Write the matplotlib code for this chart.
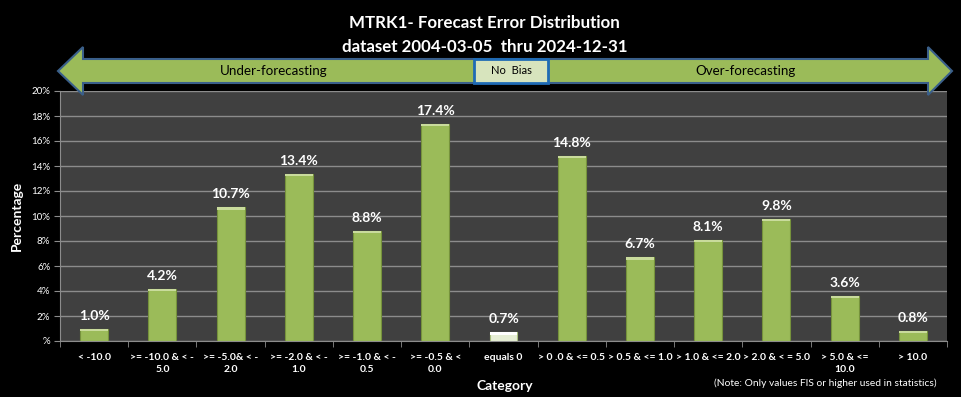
import matplotlib
matplotlib.use('Agg')
import matplotlib.pyplot as plt
from matplotlib.patches import Polygon, Rectangle
from matplotlib.ticker import FixedLocator

categories = ['< -10.0', '>= -10.0 & < -\n5.0', '>= -5.0& < -\n2.0', '>= -2.0 & < -\n1.0',
              '>= -1.0 & < -\n0.5', '>= -0.5 & <\n0.0', 'equals 0', '> 0 .0 & <= 0.5',
              '> 0.5 & <= 1.0', '> 1.0 & <= 2.0', '> 2.0 & < = 5.0', '> 5.0 & <=\n10.0', '> 10.0']
percent = [1.0, 4.2, 10.7, 13.4, 8.8, 17.4, 0.7, 14.8, 6.7, 8.1, 9.8, 3.6, 0.8]
ytick_vals = [0, 2, 4, 6, 8, 10, 12, 14, 16, 18, 20]
ytick_labels = ['%', '2%', '4%', '6%', '8%', '10%', '12%', '14%', '16%', '18%', '20%']

plt.rcParams['font.family'] = ['Lato', 'DejaVu Sans']

W, H = 961, 397
fig = plt.figure(figsize=(W / 100, H / 100), dpi=100, facecolor='black')

def fx(px):
    return px / W
def fy(py):
    return 1 - py / H

ax = fig.add_axes([fx(60), fy(341), fx(947) - fx(60), fy(91) - fy(341)])
ax.set_facecolor('#404040')

x = list(range(len(categories)))
colors = ['#9BBB59'] * len(categories)
edges = ['#76923C'] * len(categories)
colors[6] = '#E6EED5'
edges[6] = '#A9BE7E'
bars = ax.bar(x, percent, width=0.41, color=colors, edgecolor=edges, linewidth=0.8, zorder=3)
# light cap on top of each bar
for b, c in zip(bars, colors):
    cap = '#C9DB9C' if c == '#9BBB59' else '#FFFFFF'
    ax.add_patch(Rectangle((b.get_x(), b.get_height() - 0.18), b.get_width(), 0.18,
                           color=cap, zorder=4, lw=0))

for xi, v in zip(x, percent):
    ax.text(xi, v + 0.55, f'{v:.1f}%', ha='center', va='bottom', color='white',
            fontsize=10, fontweight='bold', zorder=5)

ax.set_xlim(-0.5, len(categories) - 0.5)
ax.set_ylim(0, 20)
ax.set_yticks(ytick_vals)
ax.set_yticklabels(ytick_labels, color='white', fontsize=7)
ax.yaxis.grid(True, color='#8C8C8C', linewidth=1, zorder=0)
ax.set_xticks(x)
ax.set_xticklabels(categories, color='white', fontsize=7.5, fontweight='bold', linespacing=1.3)
ax.xaxis.set_minor_locator(FixedLocator([i - 0.5 for i in range(len(categories) + 1)]))
ax.tick_params(axis='x', which='major', length=0, pad=9)
ax.tick_params(axis='x', which='minor', length=4, color='#8C8C8C')
ax.tick_params(axis='y', length=4, color='#8C8C8C', pad=3)
for s in ['top', 'right']:
    ax.spines[s].set_visible(False)
for s in ['left', 'bottom']:
    ax.spines[s].set_color('#8C8C8C')

ax.set_ylabel('Percentage', color='white', fontsize=10, fontweight='bold', labelpad=6)
fig.text(fx(505), fy(386), 'Category', color='white', fontsize=10, fontweight='bold',
         ha='center', va='center')
fig.text(fx(825), fy(383), '(Note: Only values FIS or higher used in statistics)',
         color='white', fontsize=7.4, ha='center', va='center')

# titles
fig.text(fx(484), fy(23), 'MTRK1- Forecast Error Distribution', color='white', fontsize=12.2,
         fontweight='bold', ha='center', va='center')
fig.text(fx(485), fy(47), 'dataset 2004-03-05  thru 2024-12-31', color='white', fontsize=12.2,
         fontweight='bold', ha='center', va='center')

# double-headed arrow
pts = [(58, 71), (83, 47), (83, 59), (928, 59), (928, 47), (952, 71),
       (928, 95), (928, 83), (83, 83), (83, 95)]
arrow = Polygon([(fx(a), fy(b)) for a, b in pts], closed=True, transform=fig.transFigure,
                facecolor='#9BBB59', edgecolor='#3A5F8A', linewidth=1.5, zorder=10)
fig.add_artist(arrow)
nobias = Rectangle((fx(474), fy(83)), fx(548) - fx(474), fy(59) - fy(83), transform=fig.transFigure,
                   facecolor='#D7E4BD', edgecolor='#1F6BB5', linewidth=2, zorder=11)
fig.add_artist(nobias)
fig.text(fx(511), fy(71), 'No  Bias', color='black', fontsize=8, ha='center', va='center', zorder=12)
fig.text(fx(274), fy(71), 'Under-forecasting', color='black', fontsize=9.6, ha='center', va='center', zorder=12)
fig.text(fx(745), fy(71), 'Over-forecasting', color='black', fontsize=9.6, ha='center', va='center', zorder=12)

fig.savefig('out.png', dpi=100, facecolor='black')
